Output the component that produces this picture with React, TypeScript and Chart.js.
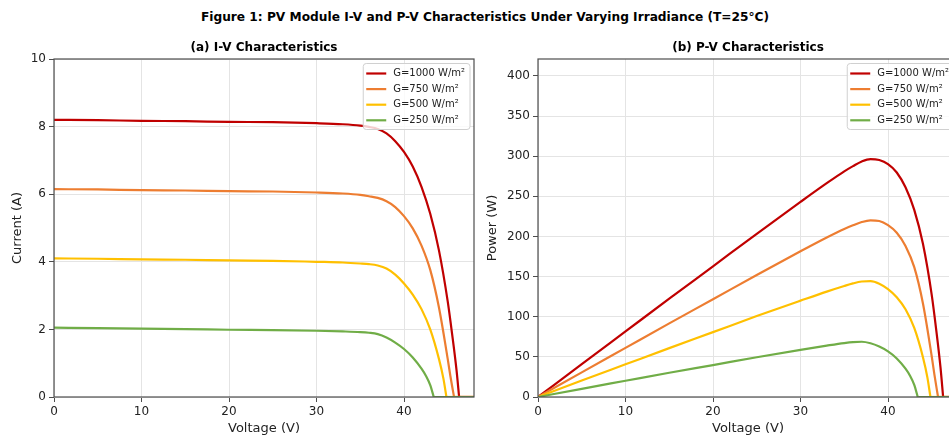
import React, { useEffect, useRef } from 'react';
import { Chart, registerables } from 'chart.js';

Chart.register(...registerables);
Chart.defaults.font.family = '"DejaVu Sans", sans-serif';

// ---------- data ----------
const seriesLabels = ['G=1000 W/m²', 'G=750 W/m²', 'G=500 W/m²', 'G=250 W/m²'];
const seriesColors = ['#C00000', '#ED7D31', '#FFC000', '#70AD47'];

const voltage1000 = [0, 5, 10, 15, 20, 25, 30, 33, 35, 36, 37, 38, 39, 40, 41, 42, 43, 44, 45, 45.5, 46, 46.3];
const current1000 = [8.2, 8.19, 8.17, 8.16, 8.14, 8.13, 8.1, 8.07, 8.03, 7.99, 7.93, 7.8, 7.57, 7.25, 6.82, 6.22, 5.42, 4.33, 2.82, 1.86, 0.8, 0];
const power1000 = [0, 41.0, 81.7, 122.4, 162.8, 203.3, 243.0, 266.3, 281.1, 287.6, 293.4, 296.4, 295.2, 290.0, 279.6, 261.2, 233.1, 190.5, 126.9, 84.6, 36.8, 0];

const voltage750 = [0, 5, 10, 15, 20, 25, 30, 33, 35, 36, 37, 38, 39, 40, 41, 42, 43, 44, 45, 45.3, 45.72];
const current750 = [6.15, 6.14, 6.12, 6.11, 6.09, 6.08, 6.05, 6.02, 5.98, 5.94, 5.89, 5.79, 5.62, 5.35, 4.99, 4.48, 3.76, 2.64, 1.12, 0.62, 0];
const power750 = [0, 30.7, 61.2, 91.7, 121.8, 152.0, 181.5, 198.7, 209.3, 213.8, 217.9, 220.0, 219.2, 214.0, 204.6, 188.2, 161.7, 116.2, 50.4, 28.1, 0];

const voltage500 = [0, 5, 10, 15, 20, 25, 30, 33, 35, 36, 37, 38, 39, 40, 41, 42, 43, 44, 44.5, 44.85];
const current500 = [4.1, 4.09, 4.07, 4.06, 4.04, 4.03, 4.0, 3.98, 3.95, 3.93, 3.89, 3.8, 3.62, 3.36, 3.03, 2.6, 2.0, 1.12, 0.55, 0];
const power500 = [0, 20.5, 40.7, 60.9, 80.8, 100.8, 120.0, 131.3, 138.3, 141.5, 143.9, 144.4, 141.2, 134.4, 124.2, 109.2, 86.0, 49.3, 24.5, 0];

const voltage250 = [0, 5, 10, 15, 20, 25, 30, 33, 35, 36, 37, 38, 39, 40, 41, 42, 42.5, 43, 43.4];
const current250 = [2.05, 2.04, 2.02, 2.01, 1.99, 1.98, 1.96, 1.94, 1.92, 1.9, 1.86, 1.76, 1.61, 1.42, 1.17, 0.84, 0.63, 0.35, 0];
const power250 = [0, 10.2, 20.2, 30.2, 39.8, 49.5, 58.8, 64.0, 67.2, 68.4, 68.8, 66.9, 62.8, 56.8, 48.0, 35.3, 26.8, 15.1, 0];

const voltageMax = 48;
const currentMax = 10;
const powerMax = 421;
const voltageTicks = [0, 10, 20, 30, 40];
const currentTicks = [0, 2, 4, 6, 8, 10];
const powerTicks = [0, 50, 100, 150, 200, 250, 300, 350, 400];

const allVoltages = [voltage1000, voltage750, voltage500, voltage250];
const allCurrents = [current1000, current750, current500, current250];
const allPowers = [power1000, power750, power500, power250];

// ---------- helpers ----------
const LINE_W = 2.2;

function buildDatasets(ys: number[][]) {
  const ds: any[] = [];
  for (let i = 0; i < 4; i++) {
    ds.push({
      label: seriesLabels[i],
      data: allVoltages[i].map((v, j) => ({ x: v, y: ys[i][j] })),
      borderColor: seriesColors[i],
      backgroundColor: seriesColors[i],
      borderWidth: LINE_W,
      pointRadius: 0,
      fill: false,
      cubicInterpolationMode: 'monotone',
      order: 4 - i,
    });
  }
  // the clipped (zero) part of every curve after its open-circuit voltage
  for (let i = 0; i < 4; i++) {
    const v = allVoltages[i];
    ds.push({
      label: '',
      data: [{ x: v[v.length - 1], y: 0 }, { x: voltageMax, y: 0 }],
      borderColor: seriesColors[i],
      borderWidth: LINE_W,
      pointRadius: 0,
      fill: false,
      tension: 0,
      order: 4 - i,
    });
  }
  return ds;
}

const framePlusLegend = {
  id: 'framePlusLegend',
  afterDatasetsDraw(chart: any) {
    const { ctx, chartArea } = chart;
    ctx.save();
    ctx.strokeStyle = '#4d4d4d';
    ctx.lineWidth = 1.2;
    ctx.strokeRect(chartArea.left, chartArea.top, chartArea.right - chartArea.left, chartArea.bottom - chartArea.top);

    const items = chart.data.datasets.filter((d: any) => d.label);
    ctx.font = '10px "DejaVu Sans"';
    const textW = Math.max(...items.map((d: any) => ctx.measureText(d.label).width));
    const w = 30 + textW + 5;
    const rowH = 15.6;
    const h = items.length * rowH + 3.6;
    const x = chartArea.right - 4 - w;
    const y = chartArea.top + 4.5;
    ctx.beginPath();
    if (ctx.roundRect) ctx.roundRect(x, y, w, h, 3);
    else ctx.rect(x, y, w, h);
    ctx.fillStyle = 'rgba(255,255,255,0.8)';
    ctx.fill();
    ctx.strokeStyle = '#d0d0d0';
    ctx.lineWidth = 1;
    ctx.stroke();
    items.forEach((d: any, i: number) => {
      const cy = y + 10 + i * rowH;
      ctx.beginPath();
      ctx.moveTo(x + 3, cy);
      ctx.lineTo(x + 23, cy);
      ctx.strokeStyle = d.borderColor;
      ctx.lineWidth = LINE_W;
      ctx.stroke();
      ctx.fillStyle = '#222';
      ctx.textBaseline = 'middle';
      ctx.textAlign = 'left';
      ctx.fillText(d.label, x + 30, cy);
    });
    ctx.restore();
  },
};

function makeConfig(title: string, yTitle: string, ys: number[][], yMax: number, yTicks: number[], yTitlePad: number): any {
  return {
    type: 'line',
    data: { datasets: buildDatasets(ys) },
    plugins: [framePlusLegend],
    options: {
      animation: false,
      responsive: false,
      maintainAspectRatio: false,
      devicePixelRatio: 1,
      layout: { padding: { left: 0, right: 16, top: 0, bottom: 0 } },
      plugins: {
        legend: { display: false },
        tooltip: { enabled: false },
        title: {
          display: true,
          text: title,
          fullSize: false,
          color: '#000',
          font: { size: 12, weight: 'bold' },
          padding: { top: 40.5, bottom: 4.1 },
        },
      },
      scales: {
        x: {
          type: 'linear',
          min: 0,
          max: voltageMax,
          afterBuildTicks: (s: any) => { s.ticks = voltageTicks.map((v) => ({ value: v })); },
          afterFit: (s: any) => { s.height = 39; },
          grid: { color: '#e4e4e4', lineWidth: 1, drawTicks: true, tickLength: 5, tickColor: '#4d4d4d' },
          border: { display: false },
          ticks: { color: '#222', font: { size: 12 }, padding: 3, maxRotation: 0, autoSkip: false },
          title: { display: true, text: 'Voltage (V)', color: '#222', font: { size: 13 }, padding: { top: 0, bottom: 0 } },
        },
        y: {
          type: 'linear',
          min: 0,
          max: yMax,
          afterBuildTicks: (s: any) => { s.ticks = yTicks.map((v) => ({ value: v })); },
          afterFit: (s: any) => { s.width = 54; },
          grid: { color: '#e4e4e4', lineWidth: 1, drawTicks: true, tickLength: 5, tickColor: '#4d4d4d' },
          border: { display: false },
          ticks: { color: '#222', font: { size: 12 }, padding: 3, autoSkip: false },
          title: { display: true, text: yTitle, color: '#222', font: { size: 13 }, padding: { top: yTitlePad, bottom: 0 } },
        },
      },
    },
  };
}

export default function App() {
  const leftRef = useRef<HTMLCanvasElement>(null);
  const rightRef = useRef<HTMLCanvasElement>(null);

  useEffect(() => {
    const c1 = new Chart(leftRef.current as HTMLCanvasElement, makeConfig('(a) I-V Characteristics', 'Current (A)', allCurrents, currentMax, currentTicks, 9.7));
    const c2 = new Chart(rightRef.current as HTMLCanvasElement, makeConfig('(b) P-V Characteristics', 'Power (W)', allPowers, powerMax, powerTicks, 0.5));
    return () => { c1.destroy(); c2.destroy(); };
  }, []);

  return (
    <div style={{ position: 'fixed', left: 0, top: 0, width: 949, height: 436, overflow: 'hidden', background: '#fff' }}>
      <div style={{ position: 'absolute', left: 0, top: 9, width: 970, textAlign: 'center', font: 'bold 12.2px "DejaVu Sans", sans-serif', lineHeight: '16px', color: '#000' }}>
        Figure 1: PV Module I-V and P-V Characteristics Under Varying Irradiance (T=25°C)
      </div>
      <canvas ref={leftRef} width={490} height={436} style={{ position: 'absolute', left: 0, top: 0 }} />
      <canvas ref={rightRef} width={490} height={436} style={{ position: 'absolute', left: 484, top: 0 }} />
    </div>
  );
}
